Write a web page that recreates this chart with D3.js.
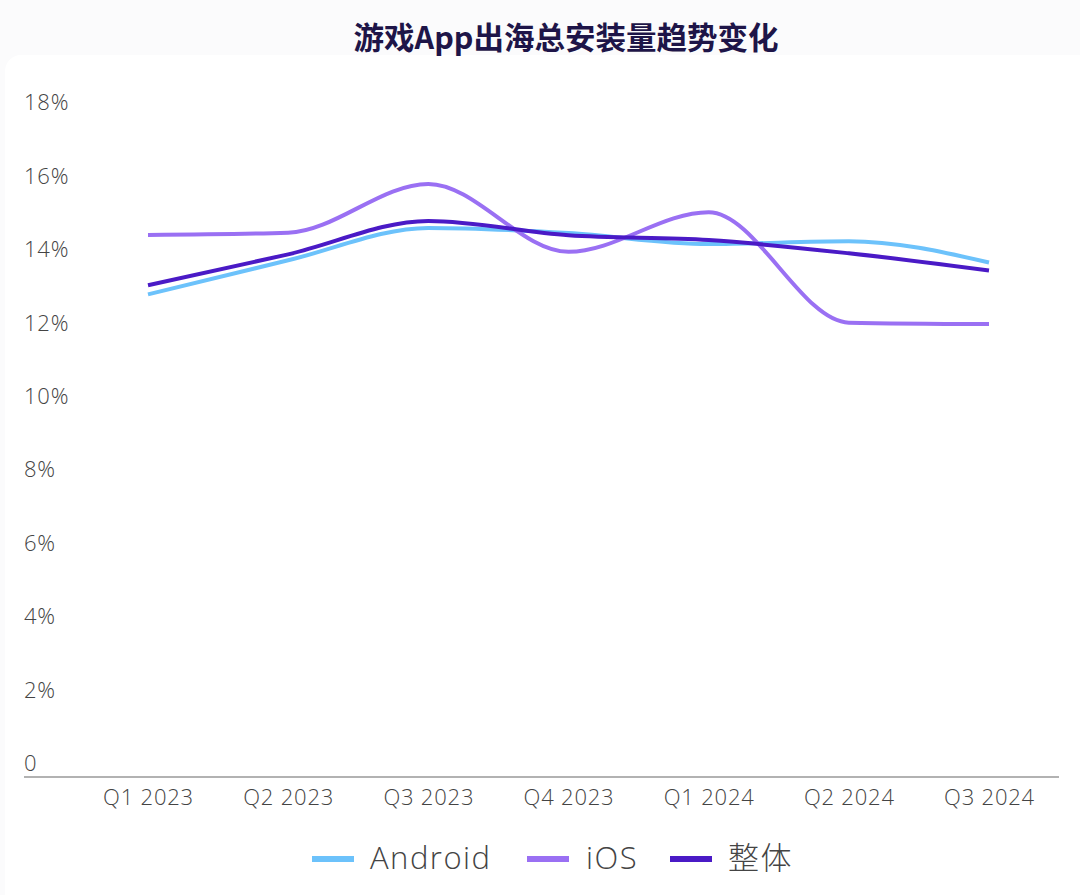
<!DOCTYPE html>
<html><head><meta charset="utf-8">
<script src="https://cdn.jsdelivr.net/npm/d3@7"></script>
<style>html,body{margin:0;padding:0;background:#fbfbfc;}svg{display:block;}</style>
</head><body><svg id="c" width="1080" height="895"></svg>
<script>
const categories = ["Q1 2023","Q2 2023","Q3 2023","Q4 2023","Q1 2024","Q2 2024","Q3 2024"];
const android = [13.15, 14.08, 14.96, 14.82, 14.52, 14.60, 14.02];
const ios     = [14.77, 14.83, 16.16, 14.31, 15.39, 12.38, 12.34];
const overall = [13.40, 14.24, 15.15, 14.76, 14.63, 14.27, 13.80];
const seriesNames = ["Android","iOS","整体"];
const seriesColors = ["#6cc2fb","#9a70f3","#4a1ac6"];
const yTicks = [0,2,4,6,8,10,12,14,16,18];
const title = "游戏App出海总安装量趋势变化";

const svg = d3.select("#c");
svg.append("rect").attr("x",5).attr("y",55).attr("width",1090).attr("height",860).attr("rx",16).attr("fill","#ffffff");

svg.append("text").attr("x",566).attr("y",49).attr("text-anchor","middle")
  .attr("font-family","'Noto Sans CJK SC', sans-serif").attr("font-weight",700)
  .attr("font-size",30.5).attr("fill","#1e1548").text(title);

const x = d3.scalePoint().domain(categories).range([148, 989]);
const y = d3.scaleLinear().domain([0,18]).range([777, 116.4]);
const font = "'Open Sans', 'Noto Sans CJK SC', sans-serif";

// y labels (sit above their value line)
svg.append("g").selectAll("text").data(yTicks).join("text")
  .attr("x",24).attr("y",d=>y(d)-6)
  .attr("font-family",font).attr("font-weight",300).attr("font-size",22)
  .attr("letter-spacing",0.8).attr("fill","#444")
  .text(d=>d===0?"0":d+"%");

// x axis
const xa = svg.append("g").attr("transform","translate(0,777)")
  .call(d3.axisBottom(x).tickSize(0).tickPadding(12));
xa.select(".domain").remove();
xa.selectAll("text").attr("font-family",font).attr("font-weight",300).attr("font-size",22)
  .attr("letter-spacing",0.8).attr("fill","#444");
svg.append("line").attr("x1",24).attr("x2",1059).attr("y1",777).attr("y2",777).attr("stroke","#999").attr("stroke-width",1.5);

const data = [android, ios, overall];
const line = d3.line().x((d,i)=>x(categories[i])).y(d=>y(d)).curve(d3.curveMonotoneX);
data.forEach((s,k)=>{
  svg.append("path").attr("d",line(s)).attr("fill","none")
    .attr("stroke",seriesColors[k]).attr("stroke-width",4).attr("stroke-linejoin","round");
});

// legend
const legX = [312, 527, 670];
const legTX = [370, 586, 728];
const legG = svg.append("g");
seriesNames.forEach((n,k)=>{
  legG.append("rect").attr("x",legX[k]).attr("y",856).attr("width",42).attr("height",6).attr("fill",seriesColors[k]);
  legG.append("text").attr("x",legTX[k]).attr("y",869)
    .attr("font-family",font).attr("font-weight",300).attr("font-size",31)
    .attr("letter-spacing",1.5).attr("fill","#444").text(n);
});
</script></body></html>
